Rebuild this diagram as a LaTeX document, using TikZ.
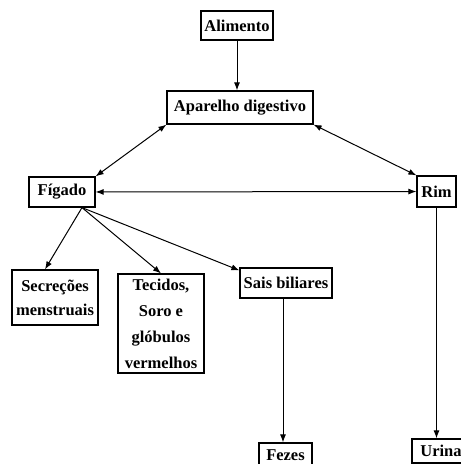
\documentclass[tikz,border=0pt]{standalone}
\usepackage{fontspec}
\setmainfont{Liberation Serif}
\usetikzlibrary{arrows.meta}
\tikzset{
  caixa/.style={draw, line width=1.2pt, inner sep=1pt, align=center,
    font=\fontsize{16.5}{24}\selectfont\bfseries},
  seta/.style={-{Latex[length=8pt,width=6pt]}, line width=1pt},
  dupla/.style={{Latex[length=8pt,width=6pt]}-{Latex[length=8pt,width=6pt]}, line width=1pt},
}
\begin{document}
\begin{tikzpicture}[x=1pt,y=-1pt]
  \useasboundingbox (0,0) rectangle (461,464);
  \clip (0,0) rectangle (461,464);
  %caixas
  \node[caixa, minimum width=72, minimum height=29] (alimento) at (237,25.5) {Alimento};
  \node[caixa, minimum width=146, minimum height=33] (aparelho) at (240,107.5) {Aparelho digestivo};
  \node[caixa, minimum width=66, minimum height=30] (figado) at (62,192) {Fígado};
  \node[caixa, minimum width=39, minimum height=31] (rim) at (436.5,191.5) {Rim};
  \node[caixa, minimum width=86, minimum height=55] (secrecoes) at (55,297.5) {Secreções\\menstruais};
  \node[caixa, minimum width=86, minimum height=99, font=\fontsize{16.5}{26}\selectfont\bfseries] (tecidos) at (161,323.5) {Tecidos,\\Soro e\\glóbulos\\vermelhos};
  \node[caixa, minimum width=92, minimum height=30] (sais) at (286,283) {Sais biliares};
  \node[caixa, minimum width=53, minimum height=24] (fezes) at (285.5,455) {Fezes};
  \node[caixa, minimum width=58, minimum height=24] (urina) at (441,451) {Urina};
  %setas
  \draw[seta] (alimento.south) -- (alimento.south |- aparelho.north);
  \draw[dupla] (aparelho.south west) -- (figado.north east);
  \draw[dupla] (aparelho.south east) -- (rim.north west);
  \draw[dupla] (figado) -- (rim);
  \draw[seta] ([xshift=20pt]figado.south) -- ([xshift=-10pt]secrecoes.north);
  \draw[seta] ([xshift=20pt]figado.south) -- (tecidos.north);
  \draw[seta] ([xshift=20pt]figado.south) -- ([yshift=-3pt]sais.north west);
  \draw[seta] ([xshift=-3pt]sais.south) -- ([xshift=-3pt]sais.south |- fezes.north);
  \draw[seta] (rim.south) -- (rim.south |- urina.north);
\end{tikzpicture}
\end{document}
